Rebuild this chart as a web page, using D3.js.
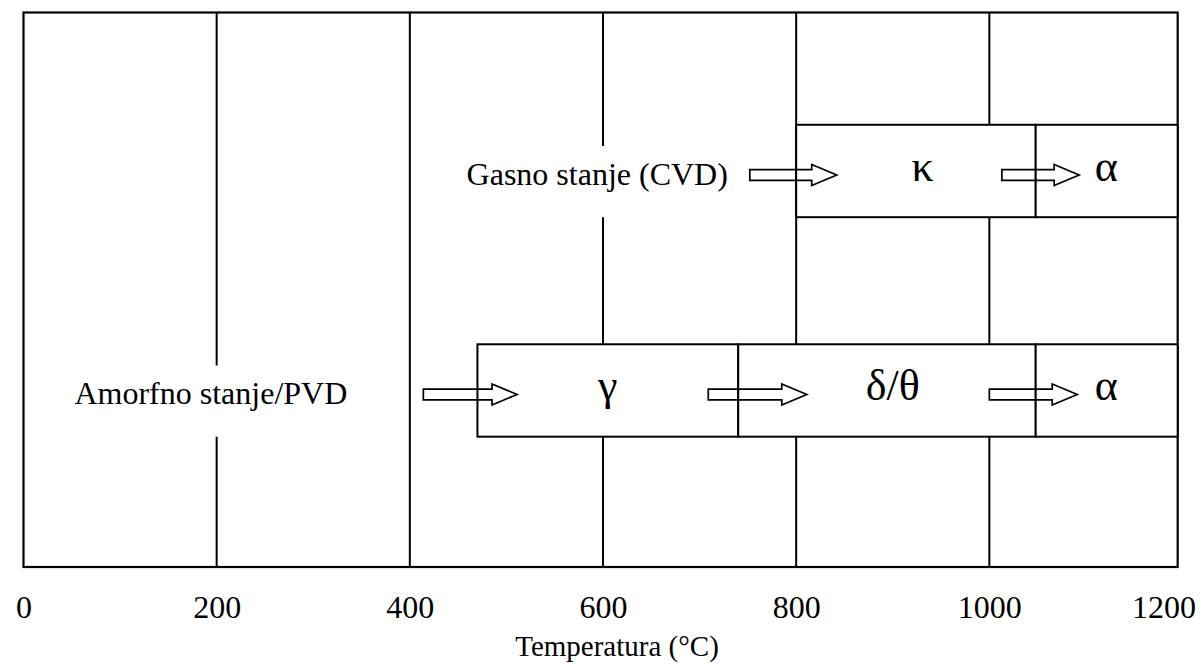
<!DOCTYPE html>
<html><head><meta charset="utf-8">
<script src="https://cdn.jsdelivr.net/npm/d3@7"></script>
<style>
html,body{margin:0;padding:0;background:#fff;}
svg{display:block;font-family:"Liberation Serif","Times New Roman",serif;}
</style></head>
<body>
<svg id="chart" width="1200" height="664"></svg>
<script>
// ---- data ----
const tickValues = [0, 200, 400, 600, 800, 1000, 1200];
const gridValues = [200, 400, 600, 800, 1000];
const axisTitle = "Temperatura (°C)";
const tempMax = 1195;              // right end of the frame (°C)

const rowNames = ["CVD", "PVD"];
const rowCenters = [1.715, 4.09];   // vertical position (row units, 0..6)

const phaseNames = ["κ", "α", "γ", "δ/θ", "α"];
const phaseRow   = ["CVD", "CVD", "PVD", "PVD", "PVD"];
const phaseStart = [800, 1048, 470, 740, 1048];
const phaseEnd   = [1048, 1195, 740, 1048, 1195];
const phaseLabelAt = [931, 1121, 605, 900, 1121];

const arrowRow  = ["CVD", "CVD", "PVD", "PVD", "PVD"];
const arrowFrom = [752, 1013, 414, 709, 1000];
const arrowTo   = [842, 1093, 511, 811, 1091];

const sourceLabels = ["Gasno stanje (CVD)", "Amorfno stanje/PVD"];
const sourceRow    = ["CVD", "PVD"];
const sourceAt     = [594, 194];

// ---- layout ----
const svg = d3.select("#chart");
const x = d3.scaleLinear().domain([0, 1200]).range([23.5, 1182.5]);
const y = d3.scaleLinear().domain([0, 6]).range([12.5, 567]);
const rowY = d3.scaleOrdinal().domain(rowNames).range(rowCenters);
const rowH = y(1) - y(0);
const lw = 2;

// frame
svg.append("rect")
  .attr("x", x(0)).attr("y", y(0))
  .attr("width", x(tempMax) - x(0)).attr("height", y(6) - y(0))
  .attr("fill", "none").attr("stroke", "#000").attr("stroke-width", 2.2);

// grid lines
svg.append("g").selectAll("line").data(gridValues).join("line")
  .attr("x1", d => x(d)).attr("x2", d => x(d))
  .attr("y1", y(0)).attr("y2", y(6))
  .attr("stroke", "#000").attr("stroke-width", lw);

// source labels with white background
const src = svg.append("g").selectAll("g").data(sourceLabels).join("g");
src.append("text")
  .attr("x", (d, i) => x(sourceAt[i]))
  .attr("y", (d, i) => y(rowY(sourceRow[i])) + 14)
  .attr("text-anchor", "middle")
  .attr("font-size", 32)
  .text(d => d);
src.each(function() {
  const g = d3.select(this);
  const t = g.select("text");
  const bb = t.node().getBBox();
  const cy = +t.attr("y") - 14;
  g.insert("rect", "text")
    .attr("x", bb.x - 4).attr("width", bb.width + 8)
    .attr("y", cy - 25).attr("height", rowH / 2 + 25)
    .attr("fill", "#fff");
});

// phase boxes
svg.append("g").selectAll("rect").data(phaseNames).join("rect")
  .attr("x", (d, i) => x(phaseStart[i]))
  .attr("width", (d, i) => x(phaseEnd[i]) - x(phaseStart[i]))
  .attr("y", (d, i) => y(rowY(phaseRow[i])) - rowH / 2)
  .attr("height", rowH)
  .attr("fill", "#fff").attr("stroke", "#000").attr("stroke-width", lw);

// arrows (hollow block arrows)
const head = 25, hw = 10.5, sw = 5.3, off = 4;
svg.append("g").selectAll("path").data(arrowFrom).join("path")
  .attr("d", (d, i) => {
    const x0 = x(arrowFrom[i]), x1 = x(arrowTo[i]);
    const cy = y(rowY(arrowRow[i])) + off;
    const xb = x1 - head;
    return `M${x0},${cy - sw}L${xb},${cy - sw}L${xb},${cy - hw}L${x1},${cy}` +
           `L${xb},${cy + hw}L${xb},${cy + sw}L${x0},${cy + sw}Z`;
  })
  .attr("fill", "none").attr("stroke", "#000").attr("stroke-width", 1.7);

// phase labels
svg.append("g").selectAll("text").data(phaseNames).join("text")
  .attr("x", (d, i) => x(phaseLabelAt[i]))
  .attr("y", (d, i) => y(rowY(phaseRow[i])) + 10)
  .attr("text-anchor", "middle")
  .attr("font-size", 44)
  .text(d => d);

// x axis
const axis = svg.append("g")
  .attr("transform", `translate(0,${y(6)})`)
  .call(d3.axisBottom(x).tickValues(tickValues).tickSize(0).tickPadding(28).tickFormat(d3.format("d")));
axis.select(".domain").remove();
axis.selectAll("text")
  .attr("font-size", 32)
  .attr("font-family", "\"Liberation Serif\",\"Times New Roman\",serif")
  .attr("fill", "#000");
// keep the last label inside the picture, as in the reference
axis.selectAll(".tick").filter(d => d === 1200).select("text")
  .attr("text-anchor", "end").attr("dx", 13);

svg.append("text")
  .attr("x", (x(0) + x(1200)) / 2 + 14)
  .attr("y", 656)
  .attr("text-anchor", "middle")
  .attr("font-size", 29)
  .text(axisTitle);
</script>
</body></html>
